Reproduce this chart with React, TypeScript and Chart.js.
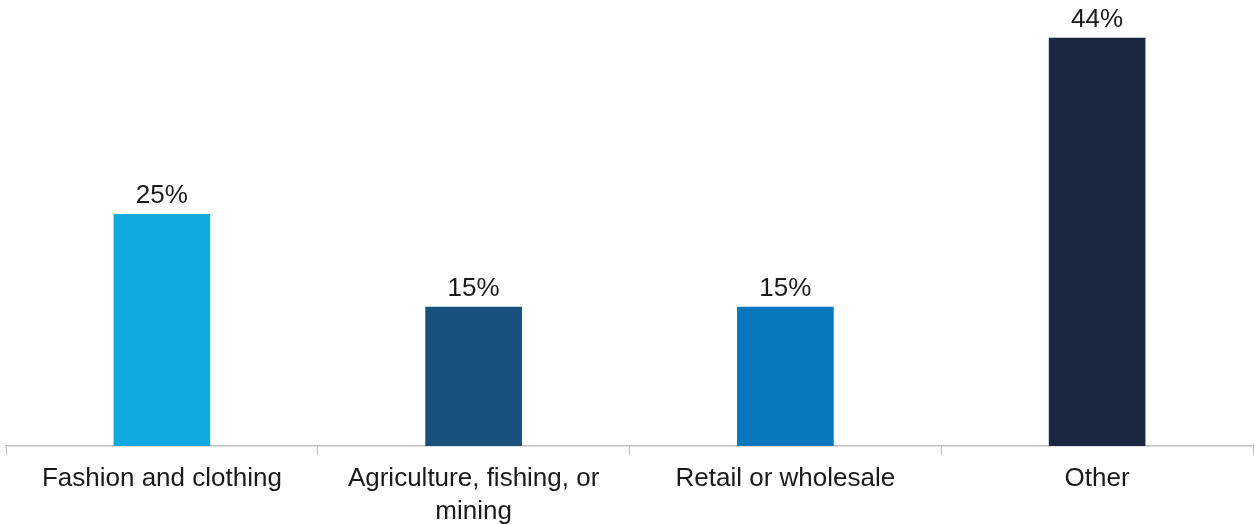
import React, { useEffect, useRef } from "react";
import { Chart, registerables } from "chart.js";

Chart.register(...registerables);

const categories: (string | string[])[] = [
  "Fashion and clothing",
  ["Agriculture, fishing, or", "mining"],
  "Retail or wholesale",
  "Other",
];
const values = [25, 15, 15, 44];
const barColors = ["#11A9E1", "#17507D", "#0877BE", "#1B2841"];

const FONT = "'Liberation Sans', Arial, sans-serif";

const valueLabelPlugin = {
  id: "valueLabels",
  afterDatasetsDraw(chart: any) {
    const ctx = chart.ctx;
    const meta = chart.getDatasetMeta(0);
    ctx.save();
    ctx.font = `26px ${FONT}`;
    ctx.fillStyle = "#1A1A1A";
    ctx.textAlign = "center";
    ctx.textBaseline = "alphabetic";
    meta.data.forEach((bar: any, i: number) => {
      ctx.fillText(`${values[i]}%`, bar.x, bar.y - 11);
    });
    ctx.restore();
  },
};

export default function App() {
  const ref = useRef<HTMLCanvasElement>(null);
  useEffect(() => {
    if (!ref.current) return;
    const chart = new Chart(ref.current, {
      type: "bar",
      data: {
        labels: categories,
        datasets: [
          {
            data: values,
            backgroundColor: barColors,
            barPercentage: 0.62,
            categoryPercentage: 0.5,
          },
        ],
      },
      options: {
        responsive: false,
        animation: false,
        maintainAspectRatio: false,
        layout: { padding: { left: 6, right: 2, top: 10, bottom: 0 } },
        plugins: {
          legend: { display: false },
          tooltip: { enabled: false },
        },
        scales: {
          x: {
            grid: {
              display: true,
              drawOnChartArea: false,
              drawTicks: true,
              tickLength: 9,
              color: "#BFBFBF",
              offset: true,
            },
            border: { display: true, color: "#BFBFBF", width: 1.5 },
            ticks: {
              color: "#1A1A1A",
              font: { family: FONT, size: 26, lineHeight: 1.25 },
              padding: 8,
              maxRotation: 0,
              autoSkip: false,
            },
            afterFit(scale: any) {
              scale.height = 79;
            },
          },
          y: {
            display: false,
            min: 0,
            max: 47,
          },
        },
      },
      plugins: [valueLabelPlugin],
    });
    return () => chart.destroy();
  }, []);
  return (
    <div style={{ position: "absolute", left: 0, top: 0, width: 1255, height: 525, background: "#fff" }}>
      <canvas ref={ref} width={1255} height={525} style={{ display: "block" }} />
    </div>
  );
}
